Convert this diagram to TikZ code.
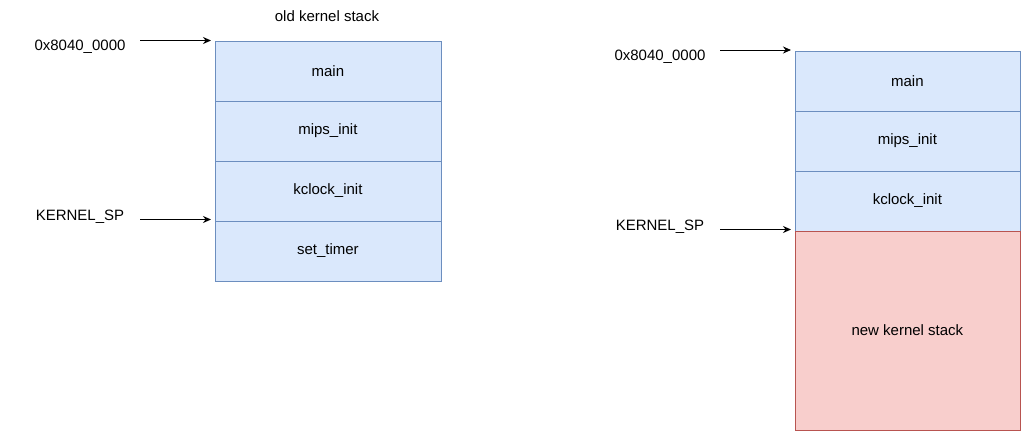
\documentclass[tikz,border=0pt]{standalone}
\usepackage{fontspec}
\setmainfont{Liberation Sans}
\usetikzlibrary{arrows.meta}
\begin{document}
\begin{tikzpicture}[x=1pt,y=-1pt,
  every node/.style={font=\fontsize{15pt}{18pt}\selectfont},
  cell/.style={draw=blueS,fill=blueF,line width=0.8pt,minimum width=226pt,minimum height=60pt,inner sep=0pt,anchor=north west},
  rcell/.style={draw=blueS,fill=blueF,line width=0.8pt,minimum width=225pt,minimum height=60pt,inner sep=0pt,anchor=north west},
  redcell/.style={draw=redS,fill=redF,line width=0.8pt,minimum width=225pt,minimum height=199pt,inner sep=0pt,anchor=north west},
  ptr/.style={-{Stealth[length=8pt,width=7pt]},line width=1pt},
  lbl/.style={inner sep=0pt}]
\definecolor{blueF}{HTML}{DAE8FC}
\definecolor{blueS}{HTML}{6C8EBF}
\definecolor{redF}{HTML}{F8CECC}
\definecolor{redS}{HTML}{B85450}
\useasboundingbox (0,0) rectangle (1021,431);
% left stack
\node[lbl] (title) at (327,16) {old kernel stack};
\node[cell] (lmain) at (214.5,40.5) {main};
\node[cell] (lmips) at (214.5,100.5) {mips\_init};
\node[cell] (lkclock) at (214.5,160.5) {kclock\_init};
\node[cell] (lset) at (214.5,220.5) {set\_timer};
\node[lbl] (laddr) at (80,46.5) {0x8040\_0000};
\node[lbl] (lsp) at (80,216.5) {KERNEL\_SP};
\coordinate (la1) at (140,40.5);
\coordinate (la2) at (211,40.5);
\coordinate (lb1) at (140,219.5);
\coordinate (lb2) at (211,219.5);
\draw[ptr] (la1) -- (la2);
\draw[ptr] (lb1) -- (lb2);
% right stack
\node[rcell] (rmain) at (794.5,50.5) {main};
\node[rcell] (rmips) at (794.5,110.5) {mips\_init};
\node[rcell] (rkclock) at (794.5,170.5) {kclock\_init};
\node[redcell] (rnew) at (794.5,230.5) {new kernel stack};
\node[lbl] (raddr) at (660,56.5) {0x8040\_0000};
\node[lbl] (rsp) at (660,226.5) {KERNEL\_SP};
\coordinate (ra1) at (720,50);
\coordinate (ra2) at (791,50);
\coordinate (rb1) at (720,229.5);
\coordinate (rb2) at (791,229.5);
\draw[ptr] (ra1) -- (ra2);
\draw[ptr] (rb1) -- (rb2);
\end{tikzpicture}
\end{document}
